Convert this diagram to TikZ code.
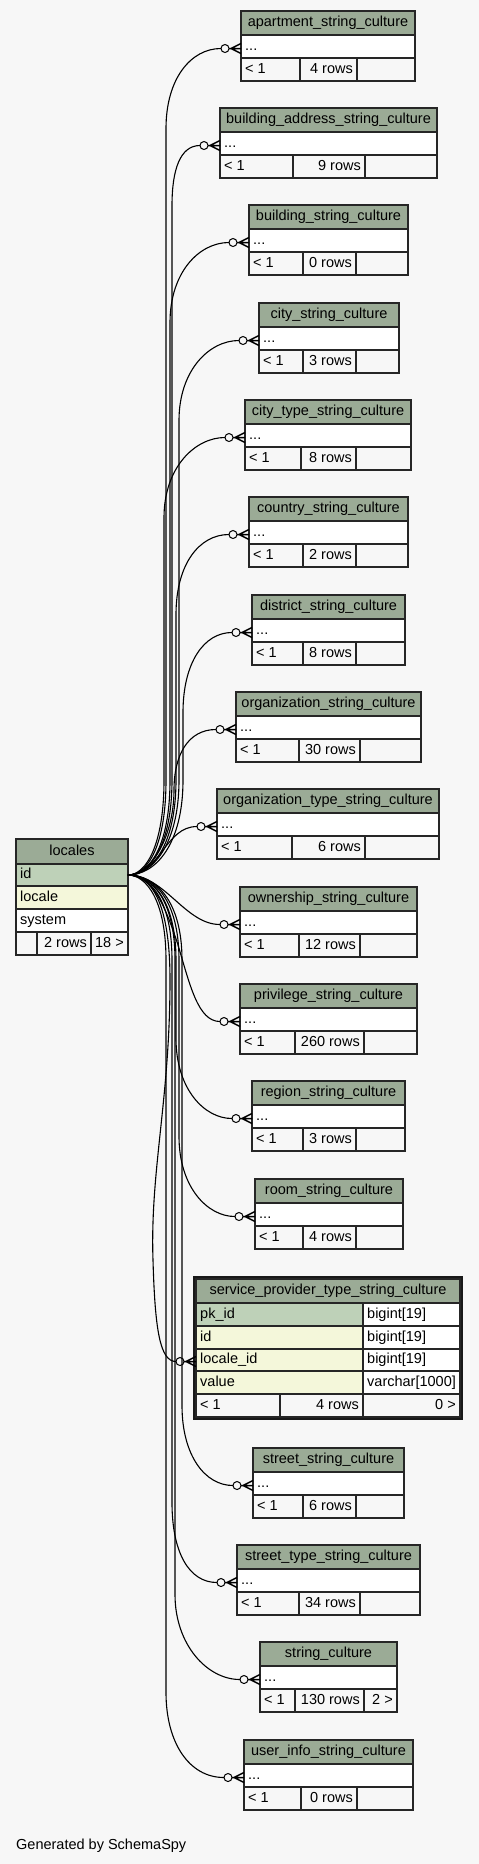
\documentclass[tikz,border=0pt]{standalone}
\usepackage{fontspec}
\setmainfont{Liberation Sans}

\definecolor{bgcol}{HTML}{F7F7F7}
\definecolor{hdcol}{HTML}{9BAB96}
\definecolor{pkcol}{HTML}{BED1B8}
\definecolor{colcol}{HTML}{F4F7DA}

\tikzset{
  tbl/.style={draw=black!85, line width=1.2pt},
  txt/.style={inner xsep=4pt, inner ysep=0pt, text height=10.5pt, text depth=3pt, font=\fontsize{14.5}{17}\selectfont},
  fk/.style={draw=black, line width=1.1pt},
  foot/.style={draw=black, line width=1.5pt},
  ring/.style={draw=black, line width=1pt, fill=bgcol},
}

% ring + crow's foot in front of a table row, line ends at (name-in)
\newcommand{\fkend}[3]{%
  \coordinate (#1-in) at (#2-20,#3);
  \draw[foot] (#2-12,#3) -- (#2,#3) (#2,#3-5) -- (#2-10,#3) -- (#2,#3+5);
  \draw[ring] (#2-16,#3) circle [radius=4pt];
}

% name, left, top, right, title, div1, div2, rows, right cell
\newcommand{\strtable}[9]{%
  \draw[tbl, fill=hdcol] (#2,#3) rectangle (#4,#3+24);
  \draw[tbl, fill=white] (#2,#3+24) rectangle (#4,#3+47);
  \draw[tbl, fill=bgcol] (#2,#3+47) rectangle (#6,#3+70);
  \draw[tbl, fill=bgcol] (#6,#3+47) rectangle (#7,#3+70);
  \draw[tbl, fill=bgcol] (#7,#3+47) rectangle (#4,#3+70);
  \node[txt] (#1) at ({(#2+#4)/2},#3+12) {#5};
  \node[txt, anchor=west] (#1-row) at (#2,#3+35.5) {...};
  \node[txt, anchor=west] (#1-min) at (#2,#3+58.5) {< 1};
  \node[txt, anchor=east] (#1-rows) at (#7,#3+58.5) {#8};
  \node[txt, anchor=east] (#1-max) at (#4,#3+58.5) {#9};
  \fkend{#1}{#2}{#3+37.5}
}

\begin{document}
\begin{tikzpicture}[x=1pt, y=-1pt]
\useasboundingbox (0,0) rectangle (479,1864);
\fill[bgcol] (0,0) rectangle (479,1864);

% locales
\draw[tbl, fill=hdcol] (16,839) rectangle (128,864);
\draw[tbl, fill=pkcol] (16,864) rectangle (128,886);
\draw[tbl, fill=colcol] (16,886) rectangle (128,909);
\draw[tbl, fill=white] (16,909) rectangle (128,932);
\draw[tbl, fill=bgcol] (16,932) rectangle (37,955);
\draw[tbl, fill=bgcol] (37,932) rectangle (91,955);
\draw[tbl, fill=bgcol] (91,932) rectangle (128,955);
\node[txt] (locales) at (72,851.5) {locales};
\node[txt, anchor=west] (locales-id) at (16,875) {id};
\node[txt, anchor=west] (locales-locale) at (16,897.5) {locale};
\node[txt, anchor=west] (locales-system) at (16,920.5) {system};
\node[txt, anchor=east] (locales-rows) at (91,943.5) {2 rows};
\node[txt, anchor=east] (locales-max) at (128,943.5) {18 >};
\coordinate (locales-out) at (128,875);

\strtable{apartment}{241}{11}{415}{apartment\_string\_culture}{300}{357}{4 rows}{}
\strtable{buildingaddress}{220}{108}{437}{building\_address\_string\_culture}{293}{365}{9 rows}{}
\strtable{building}{249}{205}{408}{building\_string\_culture}{303}{356}{0 rows}{}
\strtable{city}{259}{303}{399}{city\_string\_culture}{303}{356}{3 rows}{}
\strtable{citytype}{245}{400}{411}{city\_type\_string\_culture}{301}{356}{8 rows}{}
\strtable{country}{249}{497}{408}{country\_string\_culture}{303}{356}{2 rows}{}
\strtable{district}{252}{595}{405}{district\_string\_culture}{303}{356}{8 rows}{}
\strtable{organization}{236}{692}{421}{organization\_string\_culture}{299}{360}{30 rows}{}
\strtable{orgtype}{217}{789}{439}{organization\_type\_string\_culture}{292}{365}{6 rows}{}
\strtable{ownership}{240}{887}{417}{ownership\_string\_culture}{299}{360}{12 rows}{}
\strtable{privilege}{240}{984}{417}{privilege\_string\_culture}{295}{364}{260 rows}{}
\strtable{region}{252}{1081}{405}{region\_string\_culture}{303}{356}{3 rows}{}
\strtable{room}{255}{1179}{403}{room\_string\_culture}{303}{356}{4 rows}{}
\strtable{street}{253}{1448}{404}{street\_string\_culture}{303}{356}{6 rows}{}
\strtable{streettype}{237}{1545}{420}{street\_type\_string\_culture}{299}{360}{34 rows}{}
\strtable{stringculture}{260}{1642}{397}{string\_culture}{295}{364}{130 rows}{2 >}
\strtable{userinfo}{244}{1740}{413}{user\_info\_string\_culture}{301}{357}{0 rows}{}

% service_provider_type_string_culture, shown with its columns
\draw[line width=3pt, black!90] (194.5,1277.5) rectangle (461.5,1418.5);
\draw[tbl, fill=hdcol] (196,1279) rectangle (460,1303);
\draw[tbl, fill=pkcol] (196,1303) rectangle (363,1326);
\draw[tbl, fill=white] (363,1303) rectangle (460,1326);
\draw[tbl, fill=colcol] (196,1326) rectangle (363,1349);
\draw[tbl, fill=white] (363,1326) rectangle (460,1349);
\draw[tbl, fill=colcol] (196,1349) rectangle (363,1371);
\draw[tbl, fill=white] (363,1349) rectangle (460,1371);
\draw[tbl, fill=colcol] (196,1371) rectangle (363,1394);
\draw[tbl, fill=white] (363,1371) rectangle (460,1394);
\draw[tbl, fill=bgcol] (196,1394) rectangle (280,1417);
\draw[tbl, fill=bgcol] (280,1394) rectangle (363,1417);
\draw[tbl, fill=bgcol] (363,1394) rectangle (460,1417);
\node[txt] (service) at (328,1291) {service\_provider\_type\_string\_culture};
\node[txt, anchor=west] (service-pk) at (196,1314.5) {pk\_id};
\node[txt, anchor=west] (service-pktype) at (363,1314.5) {bigint[19]};
\node[txt, anchor=west] (service-id) at (196,1337.5) {id};
\node[txt, anchor=west] (service-idtype) at (363,1337.5) {bigint[19]};
\node[txt, anchor=west] (service-locale) at (196,1360) {locale\_id};
\node[txt, anchor=west] (service-localetype) at (363,1360) {bigint[19]};
\node[txt, anchor=west] (service-value) at (196,1382.5) {value};
\node[txt, anchor=west] (service-valuetype) at (363,1382.5) {varchar[1000]};
\node[txt, anchor=west] (service-min) at (196,1405.5) {< 1};
\node[txt, anchor=east] (service-rows) at (363,1405.5) {4 rows};
\node[txt, anchor=east] (service-max) at (460,1405.5) {0 >};
\fkend{service}{196}{1361.5}

% links from locales.id
\draw[fk] (locales-out) .. controls (148,875) and (166,845) .. (166,780) -- (166,128.5) .. controls (166,78.5) and (191,48.5) .. (apartment-in);
\draw[fk] (locales-out) .. controls (150,875) and (172,845) .. (172,780) -- (172,205.5) .. controls (172,170) and (180,145.5) .. (buildingaddress-in);
\draw[fk] (locales-out) .. controls (150,875) and (170,845) .. (170,780) -- (170,322.5) .. controls (170,272.5) and (199,242.5) .. (building-in);
\draw[fk] (locales-out) .. controls (152,875) and (179,845) .. (179,780) -- (179,420.5) .. controls (179,370.5) and (209,340.5) .. (city-in);
\draw[fk] (locales-out) .. controls (146,875) and (164,845) .. (164,780) -- (164,517.5) .. controls (164,467.5) and (195,437.5) .. (citytype-in);
\draw[fk] (locales-out) .. controls (152,875) and (176,845) .. (176,780) -- (176,614.5) .. controls (176,564.5) and (199,534.5) .. (country-in);
\draw[fk] (locales-out) .. controls (155,875) and (183,845) .. (183,780) -- (183,712.5) .. controls (183,662.5) and (204,632.5) .. (district-in);
\draw[fk] (locales-out) .. controls (152,875) and (174,835) .. (174,790) .. controls (174,755) and (188,729.5) .. (organization-in);
\draw[fk] (locales-out) .. controls (160,875) and (165,826.5) .. (orgtype-in);
\draw[fk] (locales-out) .. controls (165,875) and (185,924.5) .. (ownership-in);
\draw[fk] (locales-out) .. controls (152,875) and (165,905) .. (178,945) .. controls (190,985) and (198,1021.5) .. (privilege-in);
\draw[fk] (locales-out) .. controls (152,875) and (176,900) .. (176,960) -- (176,1038.5) .. controls (176,1088.5) and (204,1118.5) .. (region-in);
\draw[fk] (locales-out) .. controls (154,875) and (179,900) .. (179,960) -- (179,1136.5) .. controls (179,1186.5) and (207,1216.5) .. (room-in);
\draw[fk] (locales-out) .. controls (150,875) and (170,900) .. (170,980) .. controls (170,1100) and (150,1170) .. (153,1260) .. controls (155,1330) and (160,1361.5) .. (service-in);
\draw[fk] (locales-out) .. controls (155,875) and (182,900) .. (182,960) -- (182,1405.5) .. controls (182,1455.5) and (205,1485.5) .. (street-in);
\draw[fk] (locales-out) .. controls (150,875) and (172,900) .. (172,960) -- (172,1502.5) .. controls (172,1552.5) and (189,1582.5) .. (streettype-in);
\draw[fk] (locales-out) .. controls (152,875) and (175,900) .. (175,960) -- (175,1594.5) .. controls (175,1644.5) and (207,1679.5) .. (stringculture-in);
\draw[fk] (locales-out) .. controls (146,875) and (166,900) .. (166,960) -- (166,1692.5) .. controls (166,1742.5) and (189,1777.5) .. (userinfo-in);

\node[txt, anchor=west] (credit) at (12,1845.5) {Generated by SchemaSpy};
\end{tikzpicture}
\end{document}
